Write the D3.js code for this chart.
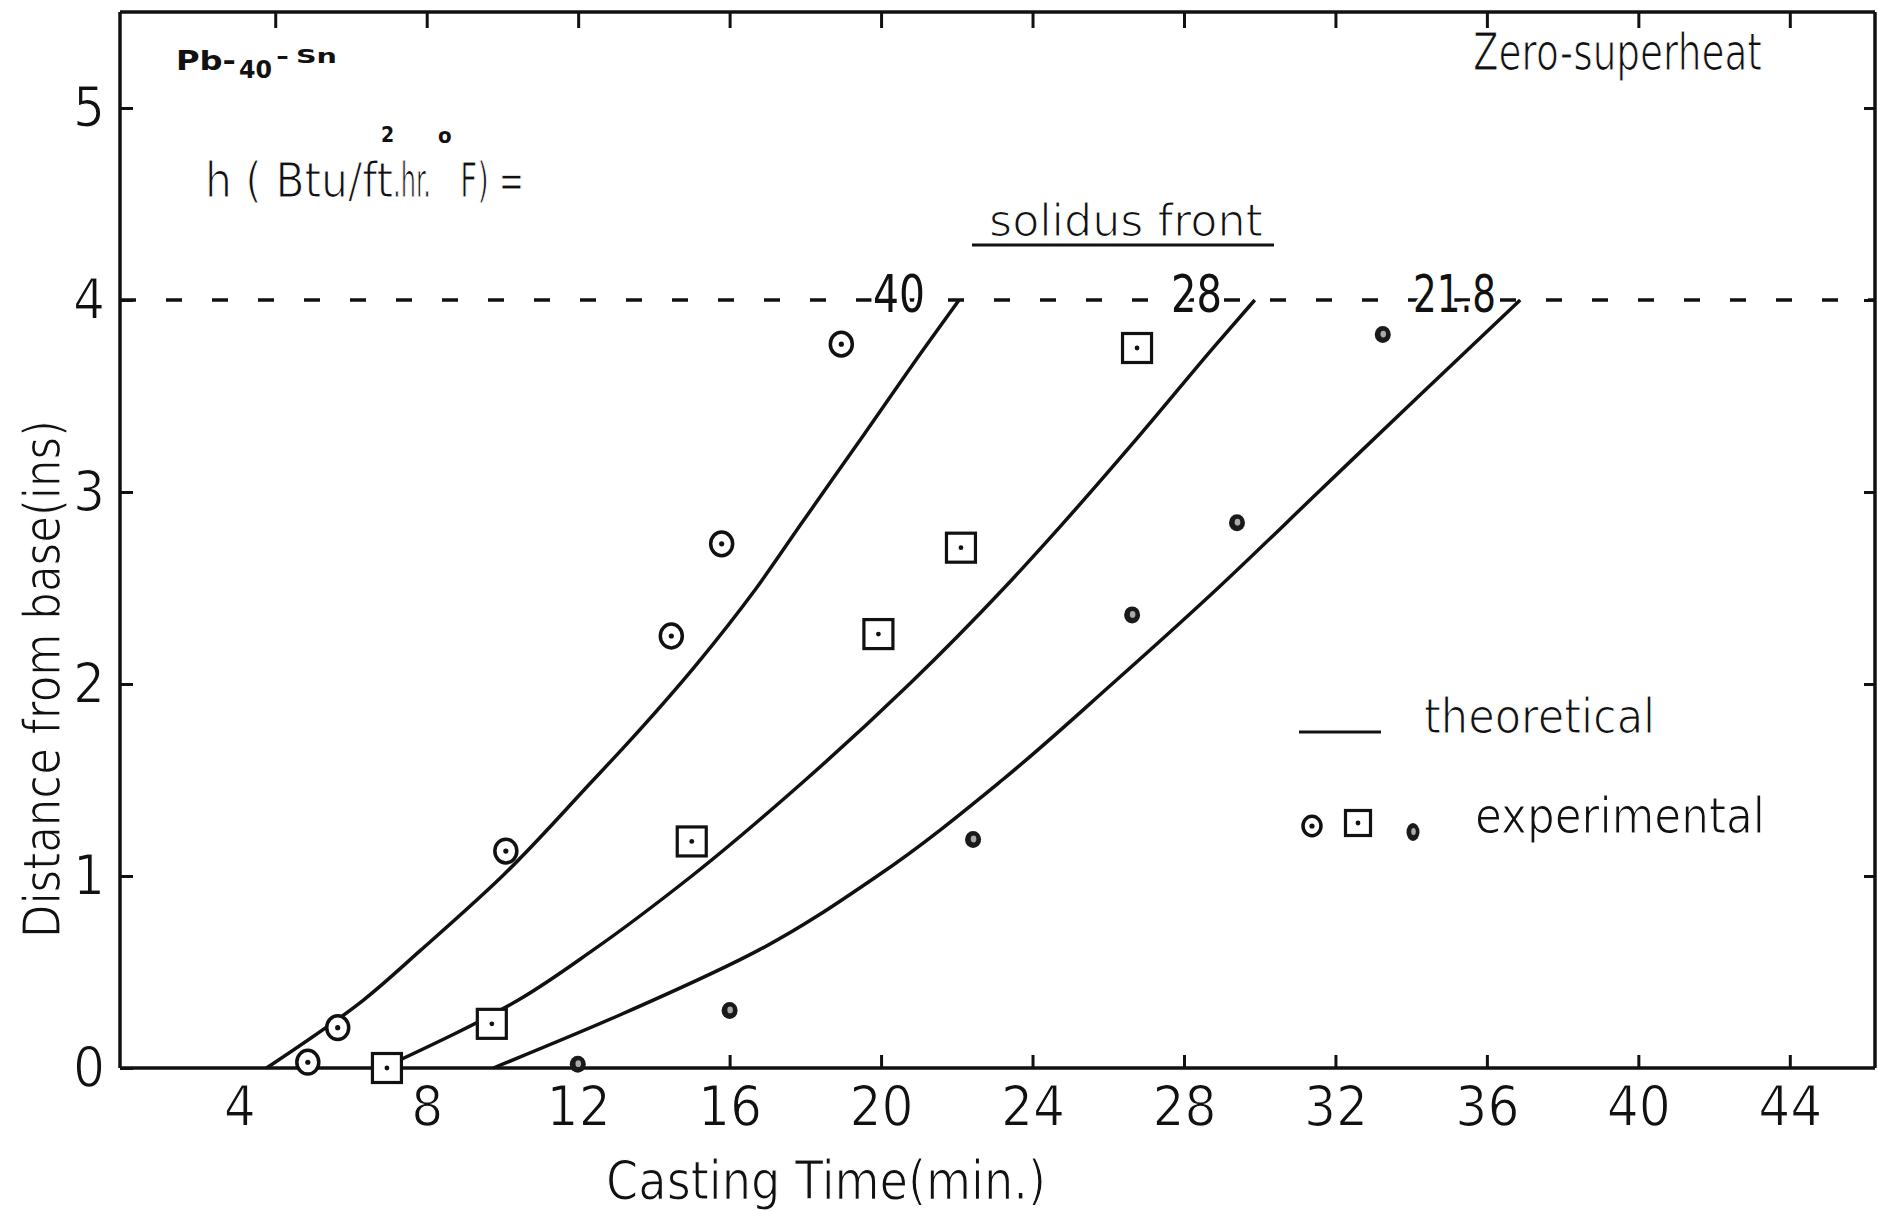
<!DOCTYPE html>
<html>
<head>
<meta charset="utf-8">
<script src="https://cdn.jsdelivr.net/npm/d3@7"></script>
<style>
  html, body { margin: 0; padding: 0; background: #fff; }
  svg { display: block; }
  text { font-family: "Liberation Sans Narrow", "DejaVu Sans Condensed", "Open Sans", sans-serif; fill: #111; }
  .thin { stroke: #fff; stroke-width: 1.2px; }
</style>
</head>
<body>
<svg id="chart" width="1877" height="1211"></svg>
<script>
// Axis ticks
const xTicks = [4, 8, 12, 16, 20, 24, 28, 32, 36, 40, 44];
const yTicks = [0, 1, 2, 3, 4, 5];

// Heat transfer coefficients h (Btu/ft^2.hr.°F), one per solidus front
const hLabels = ["40", "28", "21.8"];

// Theoretical solidus front: [casting time (min), distance from base (ins)]
const theory40 = [[3.77, 0], [6.33, 0.354], [7.85, 0.615], [10.0, 1.0], [12.4, 1.5], [13.18, 1.665], [15.15, 2.108], [16.67, 2.49], [17.9, 2.837], [19.55, 3.3], [21.17, 3.757], [22.06, 4.0]];
const theory28 = [[6.84, 0], [10.42, 0.354], [12.4, 0.615], [15.0, 1.0], [18.0, 1.5], [20.75, 2.0], [23.25, 2.5], [24.73, 2.82], [26.85, 3.3], [28.8, 3.757], [29.87, 4.0]];
const theory218 = [[9.76, 0], [13.1, 0.276], [16.78, 0.615], [19.9, 1.0], [23.2, 1.5], [26.1, 2.0], [28.9, 2.5], [31.55, 3.0], [34.15, 3.49], [36.88, 4.0]];

// Experimental points
const exp40 = [[4.86, 0.03], [5.65, 0.21], [10.09, 1.13], [14.46, 2.25], [15.79, 2.73], [18.95, 3.77]];
const exp28 = [[6.95, 0.0], [9.72, 0.23], [15.0, 1.18], [19.93, 2.26], [22.11, 2.71], [26.76, 3.75]];
const exp218 = [[11.99, 0.02], [16.0, 0.30], [22.43, 1.19], [26.63, 2.36], [29.4, 2.84], [33.25, 3.82]];

const ink = "#111";
const svg = d3.select("#chart");

const x = d3.scaleLinear().domain([-0.1, 46.25]).range([120, 1875]);
const y = d3.scaleLinear().domain([0, 5.5]).range([1068, 12]);

// Frame
const frame = svg.append("g").attr("stroke", ink).attr("stroke-width", 3.5).attr("fill", "none");
frame.append("line").attr("x1", x(-0.1)).attr("x2", x(46.25)).attr("y1", y(0)).attr("y2", y(0));
frame.append("line").attr("x1", x(-0.1)).attr("x2", x(46.25)).attr("y1", y(5.5)).attr("y2", y(5.5));
frame.append("line").attr("x1", x(-0.1)).attr("x2", x(-0.1)).attr("y1", y(0)).attr("y2", y(5.5));
frame.append("line").attr("x1", x(46.25)).attr("x2", x(46.25)).attr("y1", y(0)).attr("y2", y(5.5));

// Axes with inward ticks
function styleAxis(g) {
  g.select(".domain").remove();
  g.selectAll(".tick line").attr("stroke", ink).attr("stroke-width", 3);
  g.selectAll("text").attr("font-size", 56).attr("fill", ink).attr("class", "thin")
    .style("font-family", '"Liberation Sans Narrow", "DejaVu Sans Condensed", sans-serif');
}

svg.append("g").attr("transform", `translate(0,${y(0)})`)
  .call(d3.axisBottom(x).tickValues(xTicks).tickSize(-13).tickPadding(17).tickFormat(d3.format("d")))
  .call(styleAxis)
  .call(g => g.selectAll(".tick line").filter(d => d < 16).remove())
  .call(g => g.selectAll(".tick text").filter(d => d === 4).attr("dx", -36));

svg.append("g").attr("transform", `translate(0,${y(5.5)})`)
  .call(d3.axisTop(x).tickValues(xTicks).tickSize(-16).tickFormat(""))
  .call(styleAxis);

svg.append("g").attr("transform", `translate(${x(-0.1)},0)`)
  .call(d3.axisLeft(y).tickValues(yTicks).tickSize(-13).tickPadding(30).tickFormat(d3.format("d")))
  .call(styleAxis)
  .call(g => g.selectAll("text").attr("text-anchor", "middle").attr("dx", "-1"));

svg.append("g").attr("transform", `translate(${x(46.25)},0)`)
  .call(d3.axisRight(y).tickValues(yTicks.filter(d => d > 0)).tickSize(-11).tickFormat(""))
  .call(styleAxis);

// Dashed level at 4 ins
svg.append("line")
  .attr("x1", x(-0.1)).attr("x2", x(46.25)).attr("y1", y(4)).attr("y2", y(4))
  .attr("stroke", ink).attr("stroke-width", 3.5).attr("stroke-dasharray", "16,30");

// Theoretical curves
const line = d3.line().x(d => x(d[0])).y(d => y(d[1])).curve(d3.curveMonotoneY);
const curves = [theory40, theory28, theory218];
svg.append("g").selectAll("path").data(curves).join("path")
  .attr("d", line).attr("fill", "none").attr("stroke", ink).attr("stroke-width", 3.5);

// Curve labels on the dashed line (white halo clears the dashes beneath)
const labelX = [873, 1171, 1413];
const labelW = [52, 51, 83];
svg.append("g").selectAll("text").data(hLabels).join("text")
  .attr("x", (d, i) => labelX[i]).attr("y", y(4) + 12)
  .attr("font-size", 52).attr("textLength", (d, i) => labelW[i]).attr("lengthAdjust", "spacingAndGlyphs")
  .attr("stroke", "#fff").attr("stroke-width", 8).attr("paint-order", "stroke")
  .text(d => d);

// Experimental markers
function drawCircle(g, cx, cy, r) {
  g.append("ellipse").attr("cx", cx).attr("cy", cy).attr("rx", r).attr("ry", r * 1.08)
    .attr("fill", "#fff").attr("stroke", ink).attr("stroke-width", 3.5);
  g.append("circle").attr("cx", cx).attr("cy", cy).attr("r", 2.6).attr("fill", ink);
}
function drawSquare(g, cx, cy, s) {
  g.append("rect").attr("x", cx - s / 2).attr("y", cy - s / 2).attr("width", s).attr("height", s)
    .attr("fill", "#fff").attr("stroke", ink).attr("stroke-width", 3.2);
  g.append("circle").attr("cx", cx).attr("cy", cy).attr("r", 2.4).attr("fill", ink);
}
function drawDot(g, cx, cy, rx, ry) {
  g.append("ellipse").attr("cx", cx).attr("cy", cy).attr("rx", rx).attr("ry", ry).attr("fill", "#1a1a1a");
  g.append("ellipse").attr("cx", cx + 0.5).attr("cy", cy - 0.5).attr("rx", rx * 0.35).attr("ry", ry * 0.4).attr("fill", "#aaa");
}

const marks = svg.append("g");
exp40.forEach(d => drawCircle(marks, x(d[0]), y(d[1]), 11));
exp28.forEach(d => drawSquare(marks, x(d[0]), y(d[1]), 29));
exp218.forEach(d => drawDot(marks, x(d[0]), y(d[1]), 8, 8.5));

// Legend
svg.append("line").attr("x1", 1299).attr("x2", 1381).attr("y1", 732).attr("y2", 732)
  .attr("stroke", ink).attr("stroke-width", 3);
svg.append("text").attr("class", "thin").attr("x", 1424).attr("y", 733).attr("font-size", 48)
  .attr("textLength", 231).attr("lengthAdjust", "spacingAndGlyphs").text("theoretical");
const lg = svg.append("g");
drawCircle(lg, 1312, 826, 9);
drawSquare(lg, 1358, 823, 25);
drawDot(lg, 1413, 832, 6.5, 9);
svg.append("text").attr("class", "thin").attr("x", 1475).attr("y", 833).attr("font-size", 50)
  .attr("textLength", 290).attr("lengthAdjust", "spacingAndGlyphs").text("experimental");

// Annotations
const alloy = svg.append("text").attr("font-weight", "bold");
alloy.append("tspan").attr("x", 176).attr("y", 70).attr("font-size", 26)
  .attr("textLength", 60).attr("lengthAdjust", "spacingAndGlyphs").text("Pb-");
alloy.append("tspan").attr("x", 239).attr("y", 78).attr("font-size", 25)
  .attr("textLength", 33).attr("lengthAdjust", "spacingAndGlyphs").text("40");
alloy.append("tspan").attr("x", 276).attr("y", 64).attr("font-size", 22)
  .attr("textLength", 13).attr("lengthAdjust", "spacingAndGlyphs").text("-");
alloy.append("tspan").attr("x", 296).attr("y", 63).attr("font-size", 19)
  .attr("textLength", 41).attr("lengthAdjust", "spacingAndGlyphs").text("Sn");

const hText = svg.append("text").attr("font-size", 48).attr("class", "thin");
hText.append("tspan").attr("x", 205).attr("y", 197).attr("textLength", 188).attr("lengthAdjust", "spacingAndGlyphs").text("h ( Btu/ft");
hText.append("tspan").attr("x", 381).attr("y", 142).attr("font-size", 21).attr("font-weight", "bold").attr("stroke", "none").text("2");
hText.append("tspan").attr("x", 393).attr("y", 197).attr("textLength", 38).attr("lengthAdjust", "spacingAndGlyphs").text(".hr.");
hText.append("tspan").attr("x", 438).attr("y", 143).attr("font-size", 22).attr("font-weight", "bold").attr("stroke", "none").text("o");
hText.append("tspan").attr("x", 460).attr("y", 197).attr("textLength", 64).attr("lengthAdjust", "spacingAndGlyphs").text("F) =");

svg.append("text").attr("class", "thin").attr("x", 1473).attr("y", 70).attr("font-size", 52)
  .attr("textLength", 289).attr("lengthAdjust", "spacingAndGlyphs").text("Zero-superheat");

svg.append("text").attr("class", "thin").attr("x", 989).attr("y", 236).attr("font-size", 44)
  .attr("textLength", 274).attr("lengthAdjust", "spacingAndGlyphs").text("solidus front");
svg.append("line").attr("x1", 972).attr("x2", 1274).attr("y1", 245).attr("y2", 245)
  .attr("stroke", ink).attr("stroke-width", 3);

// Axis titles
svg.append("text").attr("class", "thin").attr("x", 606).attr("y", 1199).attr("font-size", 54)
  .attr("textLength", 440).attr("lengthAdjust", "spacingAndGlyphs").text("Casting Time(min.)");
svg.append("text").attr("class", "thin").attr("transform", "translate(60,938) rotate(-90)").attr("font-size", 52)
  .attr("textLength", 518).attr("lengthAdjust", "spacingAndGlyphs").text("Distance from base(ins)");
</script>
</body>
</html>
